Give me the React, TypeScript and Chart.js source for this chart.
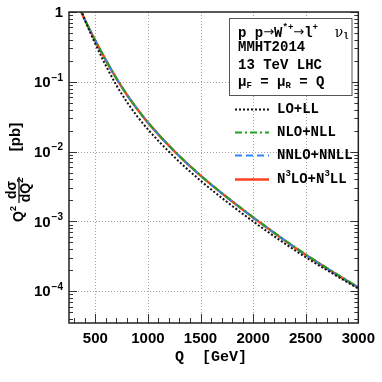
import React, { useEffect, useRef } from "react";
import { Chart, registerables } from "chart.js";

Chart.register(...registerables);

// ---- data ----
const Q_GEV = [350, 400, 500, 600, 700, 800, 900, 1000, 1250, 1500, 1750, 2000, 2250, 2500, 2750, 3000];
const LO_LL = [1.226, 0.776, 0.35, 0.171, 0.0896, 0.0516, 0.0318, 0.0208, 0.0084, 0.00384, 0.00191, 0.000999, 5.43e-4, 3.06e-4, 1.81e-4, 1.088e-4];
const NLO_NLL = [1.144, 0.782, 0.392, 0.2056, 0.1129, 0.0658, 0.0406, 0.0262, 0.01022, 0.004570, 0.002238, 0.001152, 6.13e-4, 3.37e-4, 1.94e-4, 1.144e-4];
const NNLO_NNLL = [1.137, 0.777, 0.3895, 0.2043, 0.1122, 0.0654, 0.04036, 0.02604, 0.01014, 0.004527, 0.002214, 0.001137, 6.04e-4, 3.316e-4, 1.908e-4, 1.124e-4];
const N3LO_N3LL = [1.135, 0.776, 0.389, 0.204, 0.112, 0.0653, 0.0403, 0.026, 0.01012, 0.00452, 0.00221, 0.001135, 6.03e-4, 3.31e-4, 1.905e-4, 1.122e-4];

const X_TICKS = [500, 1000, 1500, 2000, 2500, 3000];
const X_MINOR_STEP = 100;
const Y_DECADES = [0, -1, -2, -3, -4];
const X_MIN = 250;
const X_MAX = 3000;
const Y_MIN = 3.5e-5;
const Y_MAX = 1;

const SERIES = [
  { label: "LO+LL", data: LO_LL, color: "#111111", dash: [2, 2], width: 2 },
  { label: "NLO+NLL", data: NLO_NLL, color: "#22a022", dash: [7, 3, 2, 3], width: 2 },
  { label: "NNLO+NNLL", data: NNLO_NNLL, color: "#2f86ff", dash: [7, 4], width: 2 },
  { label: "N3LO+N3LL", data: N3LO_N3LL, color: "#ff4020", dash: [], width: 2.5 },
];

const SANS = "'Liberation Sans', Arial, sans-serif";
const MONO = "'Liberation Mono', 'Courier New', monospace";
const SYM = "'DejaVu Sans', sans-serif";

type Seg = { t: string; font: string; dy?: number };

function drawSegs(ctx: CanvasRenderingContext2D, segs: Seg[], x: number, y: number) {
  let cx = x;
  for (const s of segs) {
    ctx.font = s.font;
    ctx.fillText(s.t, cx, y + (s.dy || 0));
    cx += ctx.measureText(s.t).width;
  }
  return cx;
}

const decorPlugin = {
  id: "decor",
  beforeDatasetsDraw(chart: any) {
    const { ctx, chartArea: a, scales } = chart;
    const xs = scales.x, ys = scales.y;
    ctx.save();
    ctx.strokeStyle = "#a0a0a0";
    ctx.lineWidth = 1;
    ctx.setLineDash([1, 2]);
    for (const v of X_TICKS) {
      if (v >= X_MAX) continue;
      const px = Math.round(xs.getPixelForValue(v)) + 0.5;
      ctx.beginPath();
      ctx.moveTo(px, a.top);
      ctx.lineTo(px, a.bottom);
      ctx.stroke();
    }
    for (const d of Y_DECADES) {
      if (d === 0) continue;
      const py = Math.round(ys.getPixelForValue(Math.pow(10, d))) + 0.5;
      ctx.beginPath();
      ctx.moveTo(a.left, py);
      ctx.lineTo(a.right, py);
      ctx.stroke();
    }
    ctx.restore();
  },
  afterDatasetsDraw(chart: any) {
    const { ctx, chartArea: a, scales } = chart;
    const xs = scales.x, ys = scales.y;
    ctx.save();
    ctx.setLineDash([]);
    // ticks
    ctx.strokeStyle = "#333";
    ctx.lineWidth = 1;
    for (let v = 300; v <= X_MAX; v += X_MINOR_STEP) {
      const px = Math.round(xs.getPixelForValue(v)) + 0.5;
      const major = v % 500 === 0;
      const len = major ? 9 : 5;
      ctx.beginPath();
      ctx.moveTo(px, a.bottom);
      ctx.lineTo(px, a.bottom - len);
      ctx.stroke();
    }
    for (let d = -5; d <= 0; d++) {
      for (let k = 1; k <= 9; k++) {
        const v = k * Math.pow(10, d);
        if (v < Y_MIN || v > Y_MAX) continue;
        const py = Math.round(ys.getPixelForValue(v)) + 0.5;
        const len = k === 1 ? 8 : 4;
        ctx.beginPath();
        ctx.moveTo(a.left, py);
        ctx.lineTo(a.left + len, py);
        ctx.moveTo(a.right, py);
        ctx.lineTo(a.right - len, py);
        ctx.stroke();
      }
    }
    // frame
    ctx.strokeStyle = "#222";
    ctx.lineWidth = 1.5;
    ctx.strokeRect(a.left, a.top, a.right - a.left, a.bottom - a.top);

    // y tick labels
    ctx.fillStyle = "#000";
    ctx.textBaseline = "middle";
    ctx.textAlign = "left";
    const rightEdge = a.left - 6;
    for (const d of Y_DECADES) {
      const py = ys.getPixelForValue(Math.pow(10, d));
      if (d === 0) {
        ctx.font = `bold 15px ${SANS}`;
        const w = ctx.measureText("1").width;
        ctx.fillText("1", rightEdge - w, py + 1);
      } else {
        ctx.font = `bold 15px ${SANS}`;
        const w1 = ctx.measureText("10").width;
        ctx.font = `bold 10px ${SANS}`;
        const sup = "\u2212" + String(-d);
        const w2 = ctx.measureText(sup).width;
        const x0 = rightEdge - w1 - w2 - 1;
        ctx.font = `bold 15px ${SANS}`;
        ctx.fillText("10", x0, py + 1);
        ctx.font = `bold 10px ${SANS}`;
        ctx.fillText(sup, x0 + w1 + 1, py - 4);
      }
    }

    // x title
    ctx.font = `bold 15px ${MONO}`;
    ctx.textAlign = "center";
    ctx.fillText("Q  [GeV]", 211, 357);

    // y title (rotated)
    ctx.save();
    ctx.rotate(-Math.PI / 2);
    ctx.textAlign = "center";
    ctx.font = `bold 15px ${SANS}`;
    ctx.fillText("[pb]", -137, 16);
    ctx.textAlign = "left";
    drawSegs(ctx, [
      { t: "Q", font: `bold 14px ${SANS}` },
      { t: "2", font: `bold 9px ${SANS}`, dy: -5 },
    ], -222, 19);
    ctx.textAlign = "center";
    ctx.font = `bold 14px ${SANS}`;
    ctx.fillText("d\u03c3", -190, 12);
    ctx.textAlign = "left";
    ctx.font = `bold 14px ${SANS}`;
    const wdq = ctx.measureText("dQ").width;
    drawSegs(ctx, [
      { t: "dQ", font: `bold 14px ${SANS}` },
      { t: "2", font: `bold 9px ${SANS}`, dy: -5 },
    ], -190 - (wdq + 5) / 2, 26);
    ctx.strokeStyle = "#000";
    ctx.lineWidth = 1.2;
    ctx.beginPath();
    ctx.moveTo(-203, 19);
    ctx.lineTo(-177, 19);
    ctx.stroke();
    ctx.restore();

    // info box
    ctx.fillStyle = "#fff";
    ctx.fillRect(229, 18.5, 123, 77);
    ctx.strokeStyle = "#555";
    ctx.lineWidth = 1;
    ctx.strokeRect(229.5, 18.5, 122.5, 77);
    ctx.fillStyle = "#000";
    ctx.textAlign = "left";
    ctx.textBaseline = "middle";
    const M = `bold 14px ${MONO}`;
    const S = `bold 9px ${MONO}`;
    drawSegs(ctx, [
      { t: "p p", font: M },
      { t: "\u2192", font: `13px ${SYM}` },
      { t: "W", font: M },
      { t: "*+", font: S, dy: -5 },
      { t: "\u2192", font: `13px ${SYM}` },
      { t: "l", font: M },
      { t: "+", font: S, dy: -5 },
      { t: "  ", font: M },
      { t: "\u03bd", font: `14px 'DejaVu Serif', serif` },
      { t: "l", font: S, dy: 4 },
    ], 238, 33);
    drawSegs(ctx, [{ t: "MMHT2014", font: M }], 238, 47);
    drawSegs(ctx, [{ t: "13 TeV LHC", font: M }], 238, 65);
    drawSegs(ctx, [
      { t: "\u03bc", font: M },
      { t: "F", font: S, dy: 4 },
      { t: " = ", font: M },
      { t: "\u03bc", font: M },
      { t: "R", font: S, dy: 4 },
      { t: " = Q", font: M },
    ], 238, 82);

    // legend entries
    const ly = [109, 132, 155, 179];
    SERIES.forEach((s, i) => {
      ctx.strokeStyle = s.color;
      ctx.lineWidth = s.width;
      ctx.setLineDash(s.dash);
      ctx.beginPath();
      ctx.moveTo(235, ly[i] + 0.5);
      ctx.lineTo(269, ly[i] + 0.5);
      ctx.stroke();
      ctx.setLineDash([]);
      ctx.fillStyle = "#000";
      if (i === 3) {
        drawSegs(ctx, [
          { t: "N", font: M },
          { t: "3", font: S, dy: -5 },
          { t: "LO+N", font: M },
          { t: "3", font: S, dy: -5 },
          { t: "LL", font: M },
        ], 277, ly[i]);
      } else {
        drawSegs(ctx, [{ t: s.label, font: M }], 277, ly[i]);
      }
    });
    ctx.restore();
  },
};

export default function App() {
  const ref = useRef<HTMLCanvasElement | null>(null);
  useEffect(() => {
    document.body.style.margin = "0";
    const canvas = ref.current;
    if (!canvas) return;
    const chart = new Chart(canvas, {
      type: "line",
      data: {
        datasets: SERIES.map((s) => ({
          label: s.label,
          data: Q_GEV.map((q, i) => ({ x: q, y: s.data[i] })),
          borderColor: s.color,
          borderWidth: s.width,
          borderDash: s.dash,
          pointRadius: 0,
          fill: false,
          cubicInterpolationMode: "monotone" as const,
        })),
      },
      options: {
        animation: false,
        responsive: false,
        maintainAspectRatio: false,
        layout: { padding: { top: 12, right: 23, left: 0, bottom: 0 } },
        plugins: { legend: { display: false }, tooltip: { enabled: false } },
        scales: {
          x: {
            type: "linear",
            min: X_MIN,
            max: X_MAX,
            grid: { display: false, drawTicks: false },
            border: { display: false },
            afterBuildTicks: (scale: any) => {
              scale.ticks = X_TICKS.map((v) => ({ value: v }));
            },
            afterFit: (scale: any) => {
              scale.height = 59;
            },
            ticks: {
              autoSkip: false,
              maxRotation: 0,
              padding: 7,
              color: "#000",
              font: { family: SANS, size: 15, weight: "bold" },
              callback: (v: any) => String(v),
            },
          },
          y: {
            type: "logarithmic",
            min: Y_MIN,
            max: Y_MAX,
            grid: { display: false, drawTicks: false },
            border: { display: false },
            ticks: { display: false },
            afterFit: (scale: any) => {
              scale.width = 69;
            },
          },
        },
      },
      plugins: [decorPlugin],
    } as any);
    return () => chart.destroy();
  }, []);
  return (
    <div style={{ width: 382, height: 382, background: "#fff" }}>
      <canvas ref={ref} width={382} height={382} style={{ display: "block" }} />
    </div>
  );
}
